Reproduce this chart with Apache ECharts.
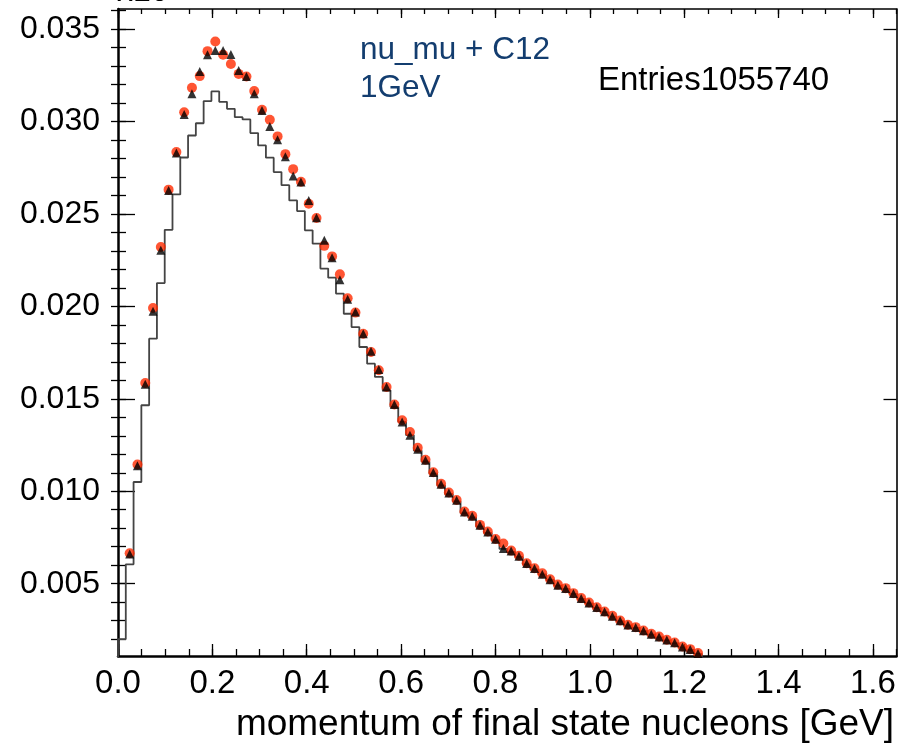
<!DOCTYPE html>
<html><head><meta charset="utf-8">
<script src="https://cdn.jsdelivr.net/npm/echarts@6/dist/echarts.min.js"></script>
<style>html,body{margin:0;padding:0;background:#fff}#c{width:907px;height:744px}</style>
</head><body><div id="c"></div>
<script>
// ---- data ----
const binWidth = 0.0165;           // GeV per bin
const firstMarkerBin = 1;          // markers start at bin 1
// histogram (grey step line), bins 0..74
const histValues = [
 0.00200,0.00605,0.01050,0.01465,0.01825,0.02126,0.02414,0.02605,0.02805,0.02924,
 0.02990,0.03110,0.03162,0.03106,0.03068,0.03023,0.03011,0.02937,0.02870,0.02804,
 0.02726,0.02655,0.02573,0.02515,0.02411,0.02339,0.02204,0.02155,0.02069,0.01960,
 0.01888,0.01780,0.01690,0.01618,0.01546,0.01456,0.01375,0.01303,0.01220,0.01160,
 0.01095,0.01032,0.00985,0.00945,0.00882,0.00858,0.00810,0.00775,0.00735,0.00688,
 0.00672,0.00645,0.00605,0.00578,0.00550,0.00520,0.00490,0.00472,0.00445,0.00418,
 0.00394,0.00369,0.00346,0.00322,0.00297,0.00274,0.00261,0.00243,0.00225,0.00210,
 0.00193,0.00178,0.00156,0.00142,0.00121
];
// red circles, bins 1..74
const redValues = [
 0.00665,0.01145,0.01585,0.01991,0.02321,0.02631,0.02834,0.03050,0.03182,
 0.03245,0.03380,0.03432,0.03361,0.03311,0.03257,0.03243,0.03164,0.03063,0.03009,
 0.02919,0.02823,0.02742,0.02674,0.02555,0.02478,0.02327,0.02270,0.02173,0.02044,
 0.01966,0.01852,0.01753,0.01654,0.01564,0.01469,0.01384,0.01320,0.01235,0.01170,
 0.01103,0.01040,0.00993,0.00953,0.00890,0.00867,0.00818,0.00782,0.00742,0.00717,
 0.00679,0.00651,0.00611,0.00584,0.00556,0.00524,0.00495,0.00476,0.00449,0.00422,
 0.00398,0.00373,0.00350,0.00326,0.00301,0.00278,0.00265,0.00247,0.00229,0.00214,
 0.00197,0.00182,0.00160,0.00146,0.00125
];
// black triangles, bins 1..74
const blackValues = [
 0.00660,0.01138,0.01578,0.01973,0.02303,0.02627,0.02829,0.03038,0.03150,
 0.03270,0.03361,0.03384,0.03384,0.03362,0.03276,0.03243,0.03150,0.03059,0.02973,
 0.02901,0.02809,0.02705,0.02672,0.02573,0.02479,0.02358,0.02263,0.02144,0.02038,
 0.01969,0.01852,0.01757,0.01658,0.01564,0.01469,0.01375,0.01303,0.01227,0.01168,
 0.01101,0.01038,0.00991,0.00951,0.00888,0.00865,0.00816,0.00780,0.00740,0.00690,
 0.00677,0.00649,0.00609,0.00582,0.00551,0.00522,0.00492,0.00474,0.00447,0.00420,
 0.00396,0.00371,0.00348,0.00324,0.00299,0.00276,0.00263,0.00245,0.00227,0.00212,
 0.00195,0.00180,0.00158,0.00144,0.00123
];
const xTickLabels = [0, 0.2, 0.4, 0.6, 0.8, 1.0, 1.2, 1.4, 1.6];
const yTickLabels = [0.005, 0.010, 0.015, 0.020, 0.025, 0.030, 0.035];
const X_MIN = 0, X_MAX = 1.65, Y_MIN = 0.00109, Y_MAX = 0.03608;

// ---- build ----
const yMinorTicks = [];
for (let i = 2; i <= 36; i++) yMinorTicks.push(+(i * 0.001).toFixed(3));

const histPts = [[0, 0]];
histValues.forEach((v, k) => histPts.push([+(k * binWidth).toFixed(4), v]));
histPts.push([+(histValues.length * binWidth).toFixed(4), 0]);
const centre = k => +((k + 0.5) * binWidth).toFixed(5);
const redPts = redValues.map((v, i) => [centre(i + firstMarkerBin), v]);
const blackPts = blackValues.map((v, i) => [centre(i + firstMarkerBin), v]);

const FF = '"Liberation Sans", Arial, Helvetica, sans-serif';
const none = {show: false};
function ax(base, o) {
  return Object.assign({type: 'value', splitLine: none, axisLabel: none, axisLine: none, axisTick: none}, base, o);
}
const xb = {min: X_MIN, max: X_MAX};
const yb = {min: Y_MIN, max: Y_MAX};
const tickLS = {color: '#000', width: 1.3};

const chart = echarts.init(document.getElementById('c'), null, {renderer: 'canvas'});
chart.setOption({
  backgroundColor: '#fff',
  animation: false,
  grid: {left: 118, right: 10.5, top: 9, bottom: 88, containLabel: false, outerBoundsMode: 'none'},
  xAxis: [
    ax(xb, {position: 'bottom',
      axisLine: {show: true, onZero: false, lineStyle: {color: '#000', width: 2.5}},
      axisTick: {show: true, inside: true, length: 12, customValues: xTickLabels, lineStyle: tickLS},
      axisLabel: {show: true, customValues: xTickLabels, formatter: v => v.toFixed(1), fontSize: 33, color: '#000', fontFamily: FF, margin: 11}}),
    ax(xb, {position: 'bottom', interval: 0.05,
      axisTick: {show: true, inside: true, length: 7, lineStyle: tickLS}}),
    ax(xb, {position: 'top',
      axisLine: {show: true, onZero: false, lineStyle: {color: '#000', width: 1.6}},
      axisTick: {show: true, inside: true, length: 9, customValues: xTickLabels, lineStyle: tickLS}}),
    ax(xb, {position: 'top', interval: 0.05,
      axisTick: {show: true, inside: true, length: 5, lineStyle: tickLS}})
  ],
  yAxis: [
    ax(yb, {position: 'left',
      axisLine: {show: true, onZero: false, lineStyle: {color: '#000', width: 2.5}},
      axisTick: {show: true, inside: true, length: 17, customValues: yTickLabels, lineStyle: tickLS},
      axisLabel: {show: true, customValues: yTickLabels, formatter: v => v.toFixed(3), fontSize: 32, color: '#000', fontFamily: FF, margin: 18}}),
    ax(yb, {position: 'left',
      axisTick: {show: true, inside: true, length: 8, customValues: yMinorTicks, lineStyle: tickLS}}),
    ax(yb, {position: 'right',
      axisLine: {show: true, onZero: false, lineStyle: {color: '#000', width: 1.6}},
      axisTick: {show: true, inside: true, length: 13, customValues: yTickLabels, lineStyle: tickLS}}),
    ax(yb, {position: 'right',
      axisTick: {show: true, inside: true, length: 7, customValues: yMinorTicks, lineStyle: tickLS}})
  ],
  series: [
    {type: 'line', name: 'hist', data: histPts, step: 'end', showSymbol: false, symbol: 'none',
     lineStyle: {color: '#444', width: 1.8}, clip: true, z: 2},
    {type: 'scatter', name: 'red', data: redPts, symbol: 'circle', symbolSize: 10,
     itemStyle: {color: '#ff2a00'}, z: 3},
    {type: 'scatter', name: 'black', data: blackPts, symbol: 'triangle', symbolSize: 9,
     itemStyle: {color: '#000'}, z: 4}
  ],
  graphic: [
    {type: 'text', x: 117, y: -8, z: 10,
     style: {text: 'x10', font: '32px ' + FF, fill: '#000', verticalAlign: 'middle', textVerticalAlign: 'middle'}},
    {type: 'text', x: 360, y: 50, z: 10,
     style: {text: 'nu_mu + C12', font: '31.5px ' + FF, fill: '#133d6f', verticalAlign: 'middle', textVerticalAlign: 'middle'}},
    {type: 'text', x: 360, y: 88, z: 10,
     style: {text: '1GeV', font: '31.5px ' + FF, fill: '#133d6f', verticalAlign: 'middle', textVerticalAlign: 'middle'}},
    {type: 'text', x: 598, y: 81, z: 10,
     style: {text: 'Entries1055740', font: '33px ' + FF, fill: '#000', verticalAlign: 'middle', textVerticalAlign: 'middle'}},
    {type: 'text', x: 894, y: 725, z: 10,
     style: {text: 'momentum of final state nucleons [GeV]', font: '37px ' + FF, fill: '#000',
       align: 'right', textAlign: 'right', verticalAlign: 'middle', textVerticalAlign: 'middle'}}
  ]
});
</script>
</body></html>
